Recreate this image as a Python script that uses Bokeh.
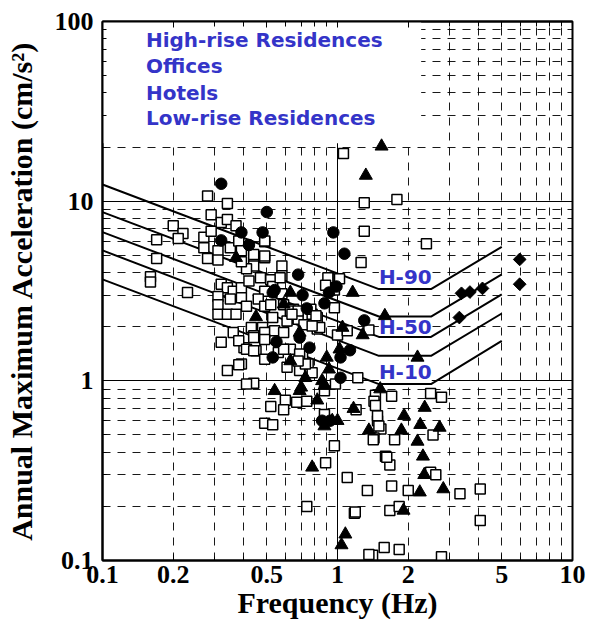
from bokeh.plotting import figure
from bokeh.models import (FixedTicker, PrintfTickFormatter, LogAxis, Label,
                          BoxAnnotation, CustomJSTickFormatter)
from bokeh.embed import file_html
from bokeh.resources import INLINE

# ---------------- data ----------------
# Offices (open squares): frequency (Hz), annual max acceleration (cm/s^2)
offices_f = [0.28, 0.34, 0.29, 0.32, 0.34, 0.37, 0.20, 0.22, 0.21, 0.17,
             0.27, 0.29, 0.27, 0.31, 0.28, 0.31, 0.35, 0.38, 0.39, 0.44,
             0.49, 0.49, 0.44, 0.41, 0.39, 0.17, 0.16, 0.16, 0.23, 0.32,
             0.34, 0.31, 0.36, 0.39, 0.42, 0.47, 0.52, 0.58, 0.58, 0.53,
             0.49, 0.39, 0.35, 0.31, 0.31, 0.34, 0.37, 0.41, 0.46, 0.49,
             0.52, 0.58, 0.59, 0.65, 0.65, 0.61, 0.53, 0.48, 0.43, 0.44,
             0.49, 0.54, 0.59, 0.68, 0.72, 0.82, 0.92, 1.02, 0.97, 0.97,
             0.78, 0.82, 1.00, 0.36, 0.32, 0.40, 0.45, 0.49, 0.56, 0.63,
             0.71, 0.75, 0.61, 0.69, 0.78, 0.39, 0.34, 0.44, 0.98, 0.88,
             0.38, 0.38, 0.49, 0.44, 0.49, 1.06, 1.30, 1.79, 1.30, 2.39,
             1.26, 0.91, 0.89, 0.57, 1.36, 1.22, 1.10, 0.77, 0.81, 0.63,
             0.68, 0.44, 0.41, 0.49, 0.44, 0.59, 0.69, 0.73, 0.84, 0.78,
             0.41, 0.68, 0.64,
             1.45, 1.70, 2.49, 2.77, 2.55, 1.75, 1.53, 1.43, 1.48, 1.48,
             1.60, 1.67, 2.49, 2.62, 1.70, 2.00, 3.32, 4.05, 4.05, 1.67,
             1.83, 1.58, 1.83, 2.77, 1.41, 1.43, 1.45, 1.50, 1.20, 1.42,
             0.97, 0.89, 1.62, 1.10, 1.34, 1.18, 1.19, 0.74, 1.36, 0.52,
             0.60, 0.59, 0.67, 0.74, 0.49, 0.53, 0.88]
offices_a = [10.7, 9.7, 8.4, 7.6, 7.9, 7.3, 7.3, 6.6, 6.2, 6.1,
             6.3, 6.8, 5.5, 5.3, 4.8, 4.7, 5.5, 6.0, 5.3, 4.85,
             5.95, 4.85, 4.35, 4.2, 4.6, 4.8, 3.8, 3.55, 3.1, 3.45,
             3.3, 2.95, 3.15, 3.3, 3.6, 3.75, 3.65, 4.35, 3.85, 3.35,
             3.15, 2.9, 2.85, 2.65, 2.35, 2.35, 2.35, 2.6, 2.85, 2.6,
             2.65, 3.05, 2.65, 2.5, 2.3, 2.15, 2.25, 1.98, 1.98, 1.78,
             1.86, 1.9, 1.86, 2.2, 2.05, 1.94, 3.7, 3.7, 3.2, 2.55,
             2.35, 2.25, 1.8, 1.86, 1.64, 1.53, 1.47, 1.32, 1.44, 1.5,
             1.39, 1.24, 1.19, 1.14, 1.11, 1.24, 1.14, 0.97, 0.96, 0.88,
             1.67, 1.23, 6.0, 5.05, 4.95, 18.4, 9.8, 10.2, 6.8, 5.8,
             4.55, 3.75, 3.4, 3.75, 1.92, 1.04, 1.9, 2.5, 2.3, 2.45,
             2.45, 1.74, 1.5, 1.7, 1.47, 1.5, 1.41, 1.24, 1.98, 2.02,
             0.96, 1.29, 2.35,
             0.83, 0.82, 0.85, 0.81, 0.5, 0.47, 0.54, 0.48, 0.6, 0.64,
             0.38, 0.34, 0.31, 0.30, 0.26, 0.245, 0.235, 0.25, 0.167, 0.19,
             0.2, 0.118, 0.115, 0.105, 0.107, 0.77, 0.73, 0.56, 0.69, 0.47,
             0.435, 0.35, 0.375, 0.29, 0.245, 0.183, 0.186, 0.2, 0.108, 0.72,
             0.78, 0.69, 0.76, 0.77, 0.58, 0.57, 0.65]

# High-rise residences (filled circles)
highrise_f = [0.32, 0.50, 0.39, 0.48, 0.96, 0.32, 0.42, 1.07, 0.68, 0.53,
              0.71, 0.74, 0.55, 0.76, 0.53, 0.88, 0.99, 0.54, 0.92, 0.69,
              1.30, 1.13, 1.03, 1.03, 0.86, 0.93]
highrise_a = [12.5, 8.7, 6.7, 6.7, 6.7, 6.05, 5.7, 5.1, 3.9, 3.1,
              3.0, 2.53, 1.65, 1.53, 1.35, 2.7, 3.35, 3.2, 3.1, 1.74,
              2.17, 1.48, 1.35, 1.04, 0.6, 0.6]

# Hotels (filled triangles)
hotels_f = [1.54, 1.32, 0.37, 0.63, 0.45, 0.59, 0.69, 0.63, 0.90, 0.92,
            0.73, 0.70, 0.86, 0.54, 1.16, 1.28, 1.02, 1.05, 1.59, 2.19,
            1.52, 2.35, 1.92, 2.25, 1.87, 2.72, 2.19, 2.31, 2.34, 2.24,
            2.82, 1.91, 1.36, 0.69, 0.82, 0.88, 0.88, 0.95, 1.00, 1.17,
            0.78, 1.08, 1.04]
hotels_a = [20.2, 13.9, 4.85, 3.1, 2.27, 2.67, 1.86, 1.29, 1.35, 1.16,
            1.04, 0.92, 1.0, 0.88, 3.1, 1.8, 1.5, 1.98, 2.3, 1.35,
            0.9, 0.71, 0.64, 0.57, 0.53, 0.55, 0.46, 0.38, 0.30, 0.24,
            0.25, 0.19, 0.53, 0.88, 0.78, 0.94, 0.56, 0.6, 0.6, 0.7,
            0.33, 0.14, 0.122]

# Low-rise residences (filled diamonds)
lowrise_f = [3.30, 3.37, 3.66, 4.14, 5.96, 5.96]
lowrise_a = [2.25, 3.07, 3.12, 3.27, 4.74, 3.45]

# Reference curves H-90 ... H-10
curve_f = [0.1, 1.5, 2.5, 5.0]
curves = [
    [12.38, 3.24, 3.24, 5.57],   # H-90
    [8.69, 2.28, 2.28, 3.91],
    [6.73, 1.756, 1.756, 3.03],  # H-50
    [5.32, 1.377, 1.377, 2.37],
    [3.67, 0.959, 0.959, 1.67],  # H-10
]
curve_labels = ["H-90", "H-50", "H-10"]

legend_labels = ["High-rise Residences", "Offices", "Hotels", "Low-rise Residences"]

x_major = [0.1, 0.2, 0.5, 1, 2, 5, 10]
x_minor = [0.2, 0.3, 0.4, 0.5, 0.6, 0.7, 0.8, 0.9, 2, 3, 4, 5, 6, 7, 8, 9]
y_major = [0.1, 1, 10, 100]
y_minor = [0.2, 0.3, 0.4, 0.5, 0.6, 0.7, 0.8, 0.9, 2, 3, 4, 5, 6, 7, 8, 9,
           20, 30, 40, 50, 60, 70, 80, 90]

# ---------------- figure ----------------
BLUE = "#3434c8"
SERIF = "Liberation Serif"

p = figure(width=593, height=628, x_axis_type="log", y_axis_type="log",
           x_range=(0.1, 10), y_range=(0.1, 100),
           output_backend="svg", toolbar_location=None,
           min_border_left=102, min_border_right=21,
           min_border_top=21, min_border_bottom=68)
p.background_fill_color = "white"
p.border_fill_color = "white"
p.outline_line_color = "black"
p.outline_line_width = 2

# grids: solid at decades, dashed at the 2..9 multiples
xg = p.xgrid[0]
xg.ticker = FixedTicker(ticks=[1], minor_ticks=x_minor)
yg = p.ygrid[0]
yg.ticker = FixedTicker(ticks=[1, 10], minor_ticks=y_minor)
for g in (xg, yg):
    g.grid_line_color = "black"
    g.grid_line_width = 1
    g.grid_line_alpha = 1
    g.minor_grid_line_color = "black"
    g.minor_grid_line_width = 1
    g.minor_grid_line_alpha = 0.9
    g.minor_grid_line_dash = "8 7"

# axes
xa = p.xaxis[0]
xa.ticker = FixedTicker(ticks=x_major, minor_ticks=x_minor)
ya = p.yaxis[0]
ya.ticker = FixedTicker(ticks=y_major, minor_ticks=y_minor)
for ax in (xa, ya):
    ax.formatter = PrintfTickFormatter(format="%g")
    ax.major_tick_in = 6
    ax.major_tick_out = 0
    ax.minor_tick_in = 4
    ax.minor_tick_out = 0
    ax.axis_line_width = 2
    ax.major_tick_line_width = 1
    ax.major_label_text_font = SERIF
    ax.major_label_text_font_style = "bold"
    ax.major_label_text_font_size = "26px"
    ax.major_label_text_color = "black"
    ax.axis_label_text_font = SERIF
    ax.axis_label_text_font_style = "bold"
    ax.axis_label_text_font_size = "30px"
    ax.axis_label_text_color = "black"
xa.axis_label = "Frequency (Hz)"
xa.major_label_standoff = 5
xa.axis_label_standoff = 0
ya.axis_label = "Annual Maximum Acceleration (cm/s\u00b2)"
ya.major_label_standoff = 9
ya.axis_label_standoff = 14

top = LogAxis(ticker=FixedTicker(ticks=x_major, minor_ticks=x_minor),
              formatter=CustomJSTickFormatter(code="return ''"),
              major_label_text_font_size="1px", major_label_standoff=0,
              major_tick_in=6, major_tick_out=0,
              minor_tick_in=5, minor_tick_out=0, axis_line_width=2)
p.add_layout(top, "above")

# white box behind the legend text (hides grid there)
p.add_layout(BoxAnnotation(left=0.1, right=2.27, bottom=21, top=100,
                           fill_color="white", fill_alpha=1,
                           line_color=None, level="underlay"))

# legend text
legend_y = [78.5, 56.2, 40.2, 28.9]
for txt, yy in zip(legend_labels, legend_y):
    p.add_layout(Label(x=0.153, y=yy, text=txt, text_font="DejaVu Sans",
                       text_font_style="bold", text_font_size="20px",
                       text_color=BLUE, text_align="left",
                       text_baseline="alphabetic"))

# curve labels
curve_label_y = [3.76, 1.99, 1.115]
for txt, yy in zip(curve_labels, curve_label_y):
    p.add_layout(Label(x=1.5, y=yy, text=txt, text_font="DejaVu Sans",
                       text_font_style="bold", text_font_size="20px",
                       text_color=BLUE, text_align="left",
                       text_baseline="alphabetic",
                       background_fill_color="white", background_fill_alpha=1,
                       level="underlay"))

# curves
for vals in curves:
    p.line(curve_f, vals, line_color="black", line_width=2)

# markers
p.scatter(offices_f, offices_a, marker="square", size=10,
          fill_color="white", line_color="black", line_width=1.5)
p.scatter(hotels_f, hotels_a, marker="triangle", size=13,
          fill_color="black", line_color="black")
p.scatter(highrise_f, highrise_a, marker="circle", size=11.5,
          fill_color="black", line_color="black")
p.scatter(lowrise_f, lowrise_a, marker="square", angle=0.785398, size=9,
          fill_color="black", line_color="black")

open("out.html", "w").write(file_html(p, INLINE))
